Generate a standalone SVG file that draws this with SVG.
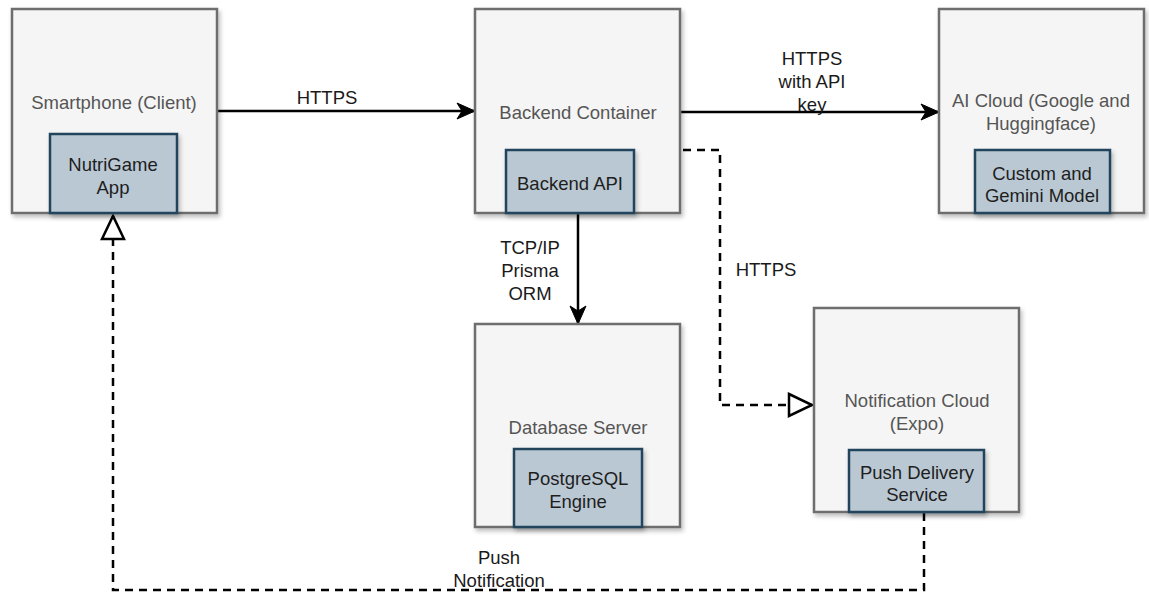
<svg xmlns="http://www.w3.org/2000/svg" width="1149" height="598" viewBox="0 0 1149 598">
<style>
.outer{fill:#f5f5f5;stroke:#6e6e6e;stroke-width:2.5}
.inner{fill:#bac8d3;stroke:#23445d;stroke-width:2.5}
text{font-family:"Liberation Sans",Arial,sans-serif;font-size:18.5px;text-anchor:middle;dominant-baseline:central}
.lbl{fill:#555}
.ilbl{fill:#1e1e1e}
.elbl{fill:#1a1a1a}
.solid{fill:none;stroke:#000;stroke-width:2.5}
.dash{fill:none;stroke:#000;stroke-width:2.5;stroke-dasharray:8 6}
.sh{filter:url(#shadow)}
</style>
<defs>
<filter id="shadow" x="-10%" y="-10%" width="130%" height="130%">
<feDropShadow dx="2" dy="3" stdDeviation="2" flood-color="#000" flood-opacity="0.25"/>
</filter>
<marker id="arrow" markerUnits="userSpaceOnUse" markerWidth="20" markerHeight="18" refX="18" refY="8" orient="auto" overflow="visible">
<path d="M0,0 L18,8 L0,16 L5,8 Z" fill="#000" stroke="#000" stroke-width="1"/>
</marker>
<marker id="open" markerUnits="userSpaceOnUse" markerWidth="26" markerHeight="26" refX="23" refY="11" orient="auto" overflow="visible">
<path d="M0,0 L23,11 L0,22 Z" fill="#fff" stroke="#000" stroke-width="2.5" stroke-linejoin="miter"/>
</marker>
</defs>

<g id="connectors">
<path class="solid" d="M217,111 H475" marker-end="url(#arrow)"/>
<text class="elbl" x="327" y="97">HTTPS</text>
<path class="solid" d="M680,112 H939" marker-end="url(#arrow)"/>
<text class="elbl" x="812" y="58">HTTPS</text>
<text class="elbl" x="812" y="81">with API</text>
<text class="elbl" x="812" y="104">key</text>
<path class="solid" d="M578,213 V324" marker-end="url(#arrow)"/>
<text class="elbl" x="530" y="247">TCP/IP</text>
<text class="elbl" x="530" y="270">Prisma</text>
<text class="elbl" x="530" y="293">ORM</text>
<path class="dash" d="M683,150 H720 V405 H812" marker-end="url(#open)"/>
<text class="elbl" x="766" y="269">HTTPS</text>
<path class="dash" d="M924,513 V590 H113 V216" marker-end="url(#open)"/>
<text class="elbl" x="499" y="557">Push</text>
<text class="elbl" x="499" y="580">Notification</text>
</g>

<g id="smartphone">
<rect class="outer sh" x="12" y="9" width="205" height="204"/>
<text class="lbl" x="114" y="102">Smartphone (Client)</text>
<rect class="inner sh" x="50" y="134" width="127" height="79"/>
<text class="ilbl" x="113" y="164">NutriGame</text>
<text class="ilbl" x="113" y="187">App</text>
</g>

<g id="backend">
<rect class="outer sh" x="475" y="9" width="205" height="204"/>
<text class="lbl" x="578" y="112">Backend Container</text>
<rect class="inner sh" x="506" y="150" width="128" height="63"/>
<text class="ilbl" x="570" y="183">Backend API</text>
</g>

<g id="aicloud">
<rect class="outer sh" x="939" y="9" width="205" height="204"/>
<text class="lbl" x="1041" y="100">AI Cloud (Google and</text>
<text class="lbl" x="1041" y="123">Huggingface)</text>
<rect class="inner sh" x="975" y="150" width="135" height="63"/>
<text class="ilbl" x="1042" y="173">Custom and</text>
<text class="ilbl" x="1042" y="195">Gemini Model</text>
</g>

<g id="database">
<rect class="outer sh" x="475" y="324" width="205" height="203"/>
<text class="lbl" x="578" y="427">Database Server</text>
<rect class="inner sh" x="514" y="449" width="128" height="78"/>
<text class="ilbl" x="578" y="478">PostgreSQL</text>
<text class="ilbl" x="578" y="501">Engine</text>
</g>

<g id="notification">
<rect class="outer sh" x="814" y="308" width="205" height="204"/>
<text class="lbl" x="917" y="400">Notification Cloud</text>
<text class="lbl" x="917" y="423">(Expo)</text>
<rect class="inner sh" x="849" y="450" width="135" height="62"/>
<text class="ilbl" x="917" y="472">Push Delivery</text>
<text class="ilbl" x="917" y="494">Service</text>
</g>
</svg>
